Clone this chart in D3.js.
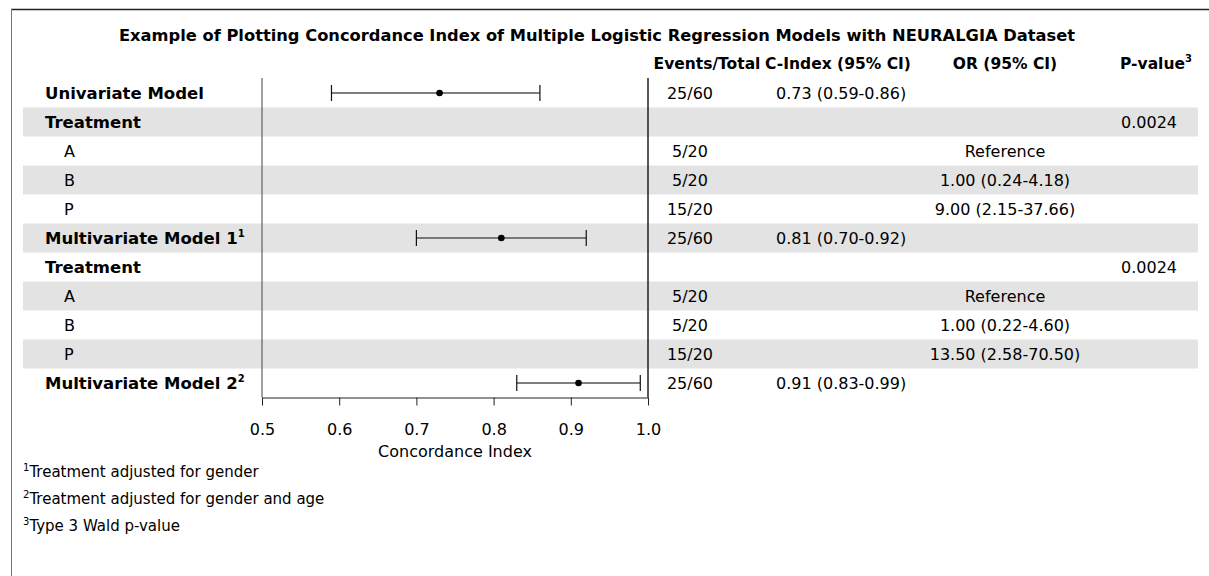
<!DOCTYPE html>
<html>
<head>
<meta charset="utf-8">
<script src="https://cdn.jsdelivr.net/npm/d3@7"></script>
<style>
  html, body { margin: 0; padding: 0; background: #fff; }
  svg { display: block; }
  text { font-family: "DejaVu Sans", Verdana, sans-serif; fill: #000; }
</style>
</head>
<body>
<svg id="chart" width="1209" height="576"></svg>
<script>
// Row labels of the forest table
const rowLabels = ["Univariate Model", "Treatment", "A", "B", "P",
  "Multivariate Model 1", "Treatment", "A", "B", "P", "Multivariate Model 2"];
const rowLabelSup = ["", "", "", "", "", "1", "", "", "", "", "2"];
const rowIndent = [0, 0, 1, 1, 1, 0, 0, 1, 1, 1, 0];
const rowBold = [true, true, false, false, false, true, true, false, false, false, true];

// Events / total per row
const eventsTotal = ["25/60", "", "5/20", "5/20", "15/20", "25/60", "", "5/20", "5/20", "15/20", "25/60"];

// Concordance index estimates with 95% CI (model rows only)
const cIndex = [0.73, null, null, null, null, 0.81, null, null, null, null, 0.91];
const cLower = [0.59, null, null, null, null, 0.70, null, null, null, null, 0.83];
const cUpper = [0.86, null, null, null, null, 0.92, null, null, null, null, 0.99];

// Odds ratios with 95% CI
const oddsRatio = ["", "", "Reference", "1.00 (0.24-4.18)", "9.00 (2.15-37.66)",
  "", "", "Reference", "1.00 (0.22-4.60)", "13.50 (2.58-70.50)", ""];

// Type 3 p-values
const pValues = ["", "0.0024", "", "", "", "", "0.0024", "", "", "", ""];

// Axis ticks
const xTicks = [0.5, 0.6, 0.7, 0.8, 0.9, 1.0];

const footnotes = [
  ["1", "Treatment adjusted for gender"],
  ["2", "Treatment adjusted for gender and age"],
  ["3", "Type 3 Wald p-value"]
];

const svg = d3.select("#chart");
const fmt2 = d3.format(".2f");

const x = d3.scaleLinear().domain([0.5, 1.0]).range([262, 648]);
const y = d3.scaleBand().domain(d3.range(rowLabels.length)).range([78.5, 397.5]);
const yc = i => y(i) + y.bandwidth() / 2;

// Outer frame (top and left edges)
svg.append("line").attr("x1", 11).attr("x2", 1209).attr("y1", 9.5).attr("y2", 9.5)
  .attr("stroke", "#222").attr("stroke-width", 1.5);
svg.append("line").attr("x1", 11.5).attr("x2", 11.5).attr("y1", 9).attr("y2", 576)
  .attr("stroke", "#777").attr("stroke-width", 1);

// Alternating row bands
svg.append("g").selectAll("rect")
  .data(d3.range(rowLabels.length).filter(i => i % 2 === 1))
  .join("rect")
  .attr("x", 23).attr("width", 1175)
  .attr("y", i => y(i)).attr("height", y.bandwidth())
  .attr("fill", "#e3e3e3");

// Title
svg.append("text")
  .attr("x", 597).attr("y", 41)
  .attr("text-anchor", "middle")
  .attr("font-size", 16.3).attr("font-weight", "bold")
  .text("Example of Plotting Concordance Index of Multiple Logistic Regression Models with NEURALGIA Dataset");

// Column headers
const headerY = 69;
const hdr = svg.append("g").attr("font-size", 15.5).attr("font-weight", "bold");
hdr.append("text").attr("x", 707).attr("y", headerY).attr("text-anchor", "middle").text("Events/Total");
hdr.append("text").attr("x", 838).attr("y", headerY).attr("text-anchor", "middle").text("C-Index (95% CI)");
hdr.append("text").attr("x", 1005).attr("y", headerY).attr("text-anchor", "middle").text("OR (95% CI)");
const pv = hdr.append("text").attr("x", 1156).attr("y", headerY).attr("text-anchor", "middle");
pv.append("tspan").text("P-value");
pv.append("tspan").attr("dy", -7).attr("font-size", 10).text("3");

// Row labels
const labels = svg.append("g");
rowLabels.forEach((lab, i) => {
  const t = labels.append("text")
    .attr("x", rowIndent[i] ? 64 : 45)
    .attr("y", yc(i)).attr("dy", "0.36em")
    .attr("font-size", rowBold[i] ? 16.5 : 16)
    .attr("font-weight", rowBold[i] ? "bold" : "normal");
  t.append("tspan").text(lab);
  if (rowLabelSup[i]) {
    t.append("tspan").attr("dy", -7).attr("font-size", 10).text(rowLabelSup[i]);
  }
});

// Text columns
const cols = svg.append("g").attr("font-size", 16);
rowLabels.forEach((_, i) => {
  if (eventsTotal[i]) cols.append("text").attr("x", 690).attr("y", yc(i)).attr("dy", "0.36em")
    .attr("text-anchor", "middle").text(eventsTotal[i]);
  if (cIndex[i] != null) cols.append("text").attr("x", 776).attr("y", yc(i)).attr("dy", "0.36em")
    .text(`${fmt2(cIndex[i])} (${fmt2(cLower[i])}-${fmt2(cUpper[i])})`);
  if (oddsRatio[i]) cols.append("text").attr("x", 1005).attr("y", yc(i)).attr("dy", "0.36em")
    .attr("text-anchor", "middle").text(oddsRatio[i]);
  if (pValues[i]) cols.append("text").attr("x", 1177).attr("y", yc(i)).attr("dy", "0.36em")
    .attr("text-anchor", "end").text(pValues[i]);
});

// Plot frame: left and right edges
const yTop = 78, yBot = 397.5;
svg.append("line").attr("x1", x(0.5)).attr("x2", x(0.5)).attr("y1", yTop).attr("y2", yBot)
  .attr("stroke", "#444").attr("stroke-width", 1);
svg.append("line").attr("x1", x(1.0)).attr("x2", x(1.0)).attr("y1", yTop).attr("y2", yBot)
  .attr("stroke", "#000").attr("stroke-width", 1.3);

// X axis
const axis = svg.append("g").attr("transform", `translate(0,${yBot})`)
  .call(d3.axisBottom(x).tickValues(xTicks).tickFormat(d3.format(".1f")).tickSizeOuter(0).tickSizeInner(8).tickPadding(18));
axis.select(".domain").attr("stroke", "#222");
axis.selectAll(".tick line").attr("stroke", "#222");
axis.selectAll(".tick text").attr("font-size", 16).attr("font-family", "DejaVu Sans, Verdana, sans-serif").attr("fill", "#000");
svg.append("text").attr("x", x(0.75)).attr("y", 457)
  .attr("text-anchor", "middle").attr("font-size", 16).text("Concordance Index");

// Confidence intervals and point estimates
const models = d3.range(rowLabels.length).filter(i => cIndex[i] != null);
const ci = svg.append("g");
ci.selectAll("line.whisk").data(models).join("line").attr("class", "whisk")
  .attr("x1", i => x(cLower[i])).attr("x2", i => x(cUpper[i]))
  .attr("y1", i => yc(i)).attr("y2", i => yc(i))
  .attr("stroke", "#555").attr("stroke-width", 1.3);
["lo", "hi"].forEach(k => {
  ci.selectAll(`line.cap-${k}`).data(models).join("line").attr("class", `cap-${k}`)
    .attr("x1", i => x(k === "lo" ? cLower[i] : cUpper[i]))
    .attr("x2", i => x(k === "lo" ? cLower[i] : cUpper[i]))
    .attr("y1", i => yc(i) - 8).attr("y2", i => yc(i) + 8)
    .attr("stroke", "#111").attr("stroke-width", 1.2);
});
ci.selectAll("circle").data(models).join("circle")
  .attr("cx", i => x(cIndex[i])).attr("cy", i => yc(i)).attr("r", 3.3).attr("fill", "#000");

// Footnotes
const fn = svg.append("g").attr("font-size", 15);
footnotes.forEach(([s, t], k) => {
  const el = fn.append("text").attr("x", 23).attr("y", 477 + k * 27);
  el.append("tspan").attr("dy", -6).attr("font-size", 10).text(s);
  el.append("tspan").attr("dy", 6).text(t);
});
</script>
</body>
</html>
